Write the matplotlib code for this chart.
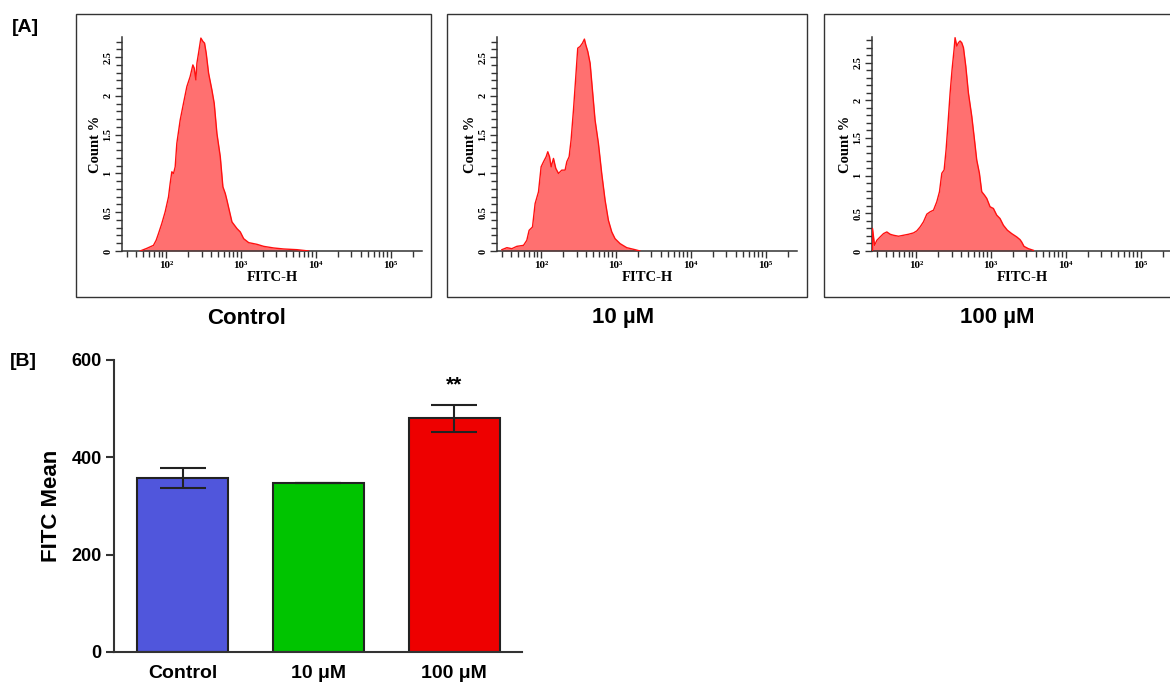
import numpy as np
import matplotlib
matplotlib.use('Agg')
import matplotlib.pyplot as plt
from matplotlib.patches import Rectangle
from matplotlib.ticker import FixedLocator, FixedFormatter, NullFormatter

# ---------------- data ----------------
panel_titles = ['Control', '10 µM', '100 µM']

ctrl_log10_fitc = [1.657, 1.746, 1.835, 1.871, 1.902, 1.946, 1.991, 2.036, 2.058, 2.080,
                   2.103, 2.125, 2.147, 2.192, 2.236, 2.281, 2.325, 2.361, 2.379, 2.401,
                   2.415, 2.437, 2.468, 2.495, 2.517, 2.539, 2.571, 2.615, 2.646, 2.682,
                   2.727, 2.762, 2.794, 2.816, 2.852, 2.883, 2.950, 2.994, 3.039, 3.106,
                   3.217, 3.306, 3.440, 3.574, 3.752, 3.908]
ctrl_count = [0.0, 0.034, 0.073, 0.138, 0.224, 0.353, 0.504, 0.698, 0.871, 1.022,
              1.0, 1.086, 1.388, 1.69, 1.905, 2.121, 2.25, 2.40, 2.358, 2.207,
              2.422, 2.552, 2.746, 2.703, 2.681, 2.552, 2.293, 2.078, 1.905, 1.517,
              1.216, 0.828, 0.741, 0.655, 0.504, 0.375, 0.289, 0.246, 0.159, 0.108,
              0.086, 0.060, 0.039, 0.026, 0.017, 0.0]

um10_log10_fitc = [1.48, 1.547, 1.613, 1.68, 1.769, 1.813, 1.844, 1.889, 1.924, 1.969,
                   2.004, 2.036, 2.071, 2.093, 2.116, 2.138, 2.169, 2.20, 2.236, 2.28,
                   2.324, 2.347, 2.378, 2.404, 2.436, 2.467, 2.493, 2.524, 2.556, 2.582,
                   2.60, 2.627, 2.658, 2.689, 2.724, 2.769, 2.813, 2.858, 2.902, 2.947,
                   2.991, 3.058, 3.147, 3.258, 3.324]
um10_count = [0.017, 0.043, 0.03, 0.06, 0.073, 0.138, 0.267, 0.31, 0.612, 0.763,
              1.086, 1.151, 1.216, 1.28, 1.216, 1.086, 1.194, 1.065, 1.0, 1.043,
              1.043, 1.151, 1.216, 1.431, 1.819, 2.25, 2.616, 2.638, 2.681, 2.733,
              2.66, 2.573, 2.422, 2.078, 1.69, 1.388, 1.0, 0.655, 0.397, 0.246,
              0.159, 0.095, 0.043, 0.017, 0.0]

um100_log10_fitc = [1.422, 1.422, 1.449, 1.48, 1.524, 1.569, 1.613, 1.658, 1.702, 1.769,
                    1.836, 1.902, 1.969, 2.013, 2.058, 2.102, 2.147, 2.191, 2.236, 2.28,
                    2.316, 2.347, 2.378, 2.404, 2.427, 2.458, 2.484, 2.511, 2.524, 2.547,
                    2.569, 2.591, 2.613, 2.636, 2.667, 2.702, 2.747, 2.778, 2.813, 2.849,
                    2.88, 2.916, 2.947, 2.991, 3.036, 3.08, 3.124, 3.169, 3.222, 3.28,
                    3.347, 3.391, 3.413, 3.444, 3.502, 3.569]
um100_count = [0.0, 0.298, 0.076, 0.142, 0.187, 0.231, 0.253, 0.222, 0.209, 0.196,
               0.209, 0.222, 0.24, 0.267, 0.32, 0.387, 0.489, 0.52, 0.542, 0.653,
               0.787, 1.031, 1.076, 1.342, 1.653, 2.098, 2.409, 2.676, 2.831, 2.72,
               2.764, 2.787, 2.764, 2.698, 2.453, 2.098, 1.787, 1.52, 1.209, 1.031,
               0.787, 0.742, 0.698, 0.587, 0.564, 0.476, 0.431, 0.342, 0.276, 0.231,
               0.187, 0.151, 0.12, 0.062, 0.031, 0.009]

hist_ytick_vals = [0, 0.5, 1, 1.5, 2, 2.5]
hist_ytick_labels = ['0', '0.5', '1', '1.5', '2', '2.5']
hist_xtick_vals = [1e2, 1e3, 1e4, 1e5]
hist_xtick_labels = ['10²', '10³', '10⁴', '10⁵']

bar_labels = ['Control', '10 μM', '100 μM']
bar_means = [358, 348, 480]
bar_sem = [20, 0, 28]
bar_colors = ['#5056DC', '#00C400', '#EE0000']
bar_yticks = [0, 200, 400, 600]

# ---------------- layout ----------------
W, H = 1170, 686
fig = plt.figure(figsize=(W / 100, H / 100), dpi=100)


def fr(l, t, r, b):
    return [l / W, 1 - b / H, (r - l) / W, (b - t) / H]


SANS = ['Liberation Sans', 'DejaVu Sans']
SERIF = ['Liberation Serif', 'DejaVu Serif']

hist_data = [(ctrl_log10_fitc, ctrl_count),
             (um10_log10_fitc, um10_count),
             (um100_log10_fitc, um100_count)]
box_left = [76, 447, 824]
box_right = [431, 807, 1180]
ax_left = [122, 497, 872]
ax_right = [422, 797, 1172]
ytops = [2.76, 2.76, 2.84]
title_x = [247, 623, 997]

for i in range(3):
    # surrounding box
    fig.patches.append(Rectangle((box_left[i] / W, 1 - 297 / H),
                                 (box_right[i] - box_left[i]) / W, (297 - 14) / H,
                                 transform=fig.transFigure, fill=False,
                                 edgecolor='#333333', linewidth=1.0))
    ax = fig.add_axes(fr(ax_left[i], 37, ax_right[i], 251))
    lx, cnt = hist_data[i]
    x = 10 ** np.array(lx)
    y = np.array(cnt)
    ax.fill_between(x, y, 0, color='#FF7070', lw=0, zorder=2)
    ax.plot(x, y, color='#FF1010', lw=1.0, zorder=3)
    ax.set_xscale('log')
    ax.set_xlim(10 ** 1.415, 10 ** 5.42)
    ax.set_ylim(0, ytops[i])
    for s in ['top', 'right']:
        ax.spines[s].set_visible(False)
    for s in ['left', 'bottom']:
        ax.spines[s].set_color('#333333')
        ax.spines[s].set_linewidth(1.1)
    ax.xaxis.set_major_locator(FixedLocator(hist_xtick_vals))
    ax.xaxis.set_major_formatter(FixedFormatter(hist_xtick_labels))
    minors = [k * 10 ** n for n in range(1, 6) for k in range(2, 10)]
    ax.xaxis.set_minor_locator(FixedLocator(minors))
    ax.xaxis.set_minor_formatter(NullFormatter())
    ax.yaxis.set_major_locator(FixedLocator(hist_ytick_vals))
    ax.yaxis.set_major_formatter(FixedFormatter(hist_ytick_labels))
    ax.yaxis.set_minor_locator(FixedLocator(np.arange(0, ytops[i], 0.1)))
    ax.tick_params(which='major', direction='out', length=5, width=1.0, color='#333333', pad=2)
    ax.tick_params(which='minor', direction='out', length=4.5, width=1.0, color='#333333')
    for lab in ax.get_xticklabels():
        lab.set_fontfamily(SERIF)
        lab.set_fontweight('bold')
        lab.set_fontsize(8)
    for lab in ax.get_yticklabels():
        lab.set_fontfamily(SERIF)
        lab.set_fontweight('bold')
        lab.set_fontsize(7.5)
        lab.set_rotation(90)
        lab.set_verticalalignment('center')
    ax.set_xlabel('FITC-H', family=SERIF, fontweight='bold', fontsize=10.5, labelpad=1)
    ax.set_ylabel('Count %', family=SERIF, fontweight='bold', fontsize=10.5, labelpad=1)
    fig.text(title_x[i] / W, 1 - 318 / H, panel_titles[i], family=SANS,
             fontweight='bold', fontsize=16, ha='center', va='center')

fig.text(12 / W, 1 - 28 / H, '[A]', family=SANS, fontweight='bold', fontsize=14,
         ha='left', va='center')
fig.text(10 / W, 1 - 361 / H, '[B]', family=SANS, fontweight='bold', fontsize=14,
         ha='left', va='center')

# ---------------- bar chart ----------------
axb = fig.add_axes(fr(114, 360, 522, 652))
xb = np.arange(len(bar_labels))
axb.bar(xb, bar_means, width=0.67, color=bar_colors, edgecolor='#222222',
        linewidth=1.5, zorder=2)
axb.errorbar(xb, bar_means, yerr=bar_sem, fmt='none', ecolor='#222222',
             elinewidth=1.5, capsize=16.5, capthick=1.5, zorder=3)
axb.text(2, 548, '**', ha='center', va='center', fontsize=15, fontweight='bold',
         family=SANS)
axb.set_xlim(-0.505, 2.5)
axb.set_ylim(0, 600)
for s in ['top', 'right']:
    axb.spines[s].set_visible(False)
for s in ['left', 'bottom']:
    axb.spines[s].set_color('#333333')
    axb.spines[s].set_linewidth(1.5)
axb.set_xticks(xb)
axb.set_xticklabels(bar_labels, family=SANS, fontweight='bold', fontsize=14)
axb.set_yticks(bar_yticks)
axb.set_yticklabels([str(v) for v in bar_yticks], family=SANS, fontweight='bold',
                    fontsize=13)
axb.tick_params(axis='x', length=0, pad=9.5)
axb.tick_params(axis='y', direction='out', length=6, width=1.5, color='#333333', pad=3)
axb.set_ylabel('FITC Mean', family=SANS, fontweight='bold', fontsize=16)
axb.yaxis.set_label_coords(-0.128, 0.5)

fig.savefig('out.png', dpi=100)
